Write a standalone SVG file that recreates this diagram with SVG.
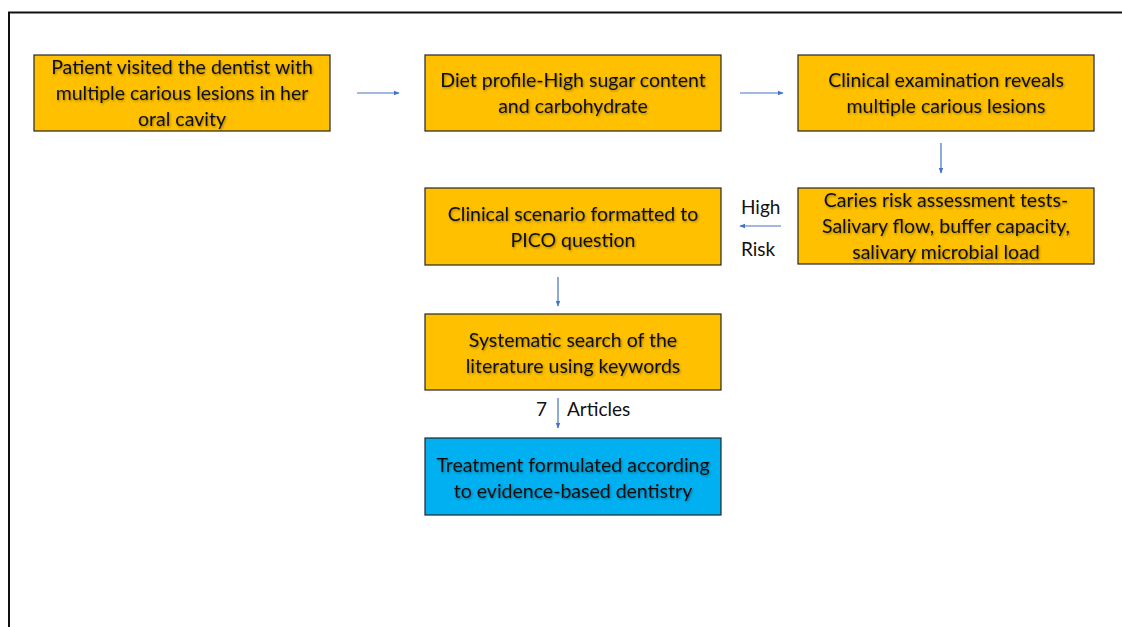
<svg xmlns="http://www.w3.org/2000/svg" width="1122" height="627" viewBox="0 0 1122 627">
<style>
.box{fill:#FFC000;stroke:#262626;stroke-width:1.2}
.blue{fill:#00B0F0;stroke:#262626;stroke-width:1.2}
.t{font-family:Lato,"Liberation Sans",sans-serif;font-size:19.5px;fill:#111;text-anchor:middle;filter:url(#sh)}
.lbl{font-family:Lato,"Liberation Sans",sans-serif;font-size:19px;fill:#111}
.c{stroke:#4472C4;stroke-width:1.2;fill:none;marker-end:url(#ah)}
</style>
<defs>
<marker id="ah" viewBox="0 0 10 10" refX="9" refY="5" markerWidth="6" markerHeight="6" markerUnits="userSpaceOnUse" orient="auto">
<path d="M0,1 L10,5 L0,9 Z" fill="#4472C4"/>
</marker>
<filter id="sh" x="-5%" y="-20%" width="110%" height="150%">
<feDropShadow dx="1" dy="1.2" stdDeviation="0.9" flood-color="#000" flood-opacity="0.35"/>
</filter>
</defs>
<rect width="1122" height="627" fill="#fff"/>
<path d="M9,627 V12.5 H1122" fill="none" stroke="#111" stroke-width="2"/>
<g id="connectors">
<line class="c" x1="357" y1="93" x2="399" y2="93"/>
<line class="c" x1="740" y1="93" x2="783" y2="93"/>
<line class="c" x1="941" y1="143" x2="941" y2="173"/>
<line class="c" x1="781" y1="226" x2="740" y2="226"/>
<line class="c" x1="558" y1="277" x2="558" y2="306"/>
<line class="c" x1="558" y1="398" x2="558" y2="428"/>
<text class="lbl" x="741" y="214">High</text>
<text class="lbl" x="741" y="256">Risk</text>
<text class="lbl" x="536" y="416">7</text>
<text class="lbl" x="567" y="416">Articles</text>
</g>
<g id="n1"><rect class="box" x="34" y="55" width="296" height="76"/>
<text class="t" x="182" y="74">Patient visited the dentist with</text>
<text class="t" x="182" y="100">multiple carious lesions in her</text>
<text class="t" x="182" y="126">oral cavity</text></g>
<g id="n2"><rect class="box" x="425" y="55" width="296" height="76"/>
<text class="t" x="573" y="87">Diet profile-High sugar content</text>
<text class="t" x="573" y="113">and carbohydrate</text></g>
<g id="n3"><rect class="box" x="798" y="55" width="296" height="76"/>
<text class="t" x="946" y="87">Clinical examination reveals</text>
<text class="t" x="946" y="113">multiple carious lesions</text></g>
<g id="n4"><rect class="box" x="798" y="188" width="296" height="76"/>
<text class="t" x="946" y="207">Caries risk assessment tests-</text>
<text class="t" x="946" y="233">Salivary flow, buffer capacity,</text>
<text class="t" x="946" y="259">salivary microbial load</text></g>
<g id="n5"><rect class="box" x="425" y="188" width="296" height="77"/>
<text class="t" x="573" y="221">Clinical scenario formatted to</text>
<text class="t" x="573" y="247">PICO question</text></g>
<g id="n6"><rect class="box" x="425" y="314" width="296" height="76"/>
<text class="t" x="573" y="347">Systematic search of the</text>
<text class="t" x="573" y="373">literature using keywords</text></g>
<g id="n7"><rect class="blue" x="425" y="438" width="296" height="77"/>
<text class="t" x="573" y="472">Treatment formulated according</text>
<text class="t" x="573" y="498">to evidence-based dentistry</text></g>
</svg>
